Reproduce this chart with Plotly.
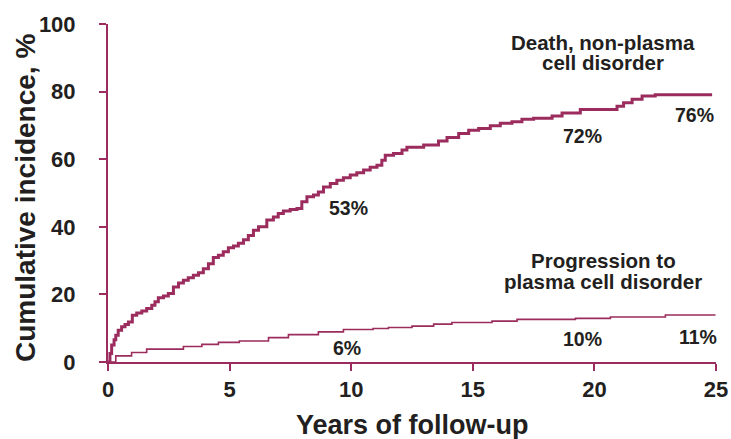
import plotly.graph_objects as go

# Death, non-plasma cell disorder (step curve)
death_years = [0, 0.08, 0.15, 0.25, 0.32, 0.42, 0.56, 0.70, 0.84, 1.0, 1.18, 1.39, 1.59, 1.80, 1.93,
               2.07, 2.28, 2.48, 2.69, 2.90, 3.10, 3.30, 3.51, 3.72, 3.92, 4.13, 4.33, 4.54, 4.74, 4.95,
               5.16, 5.36, 5.57, 5.77, 5.98, 6.19, 6.53, 6.80, 7.0, 7.21, 7.49, 7.77, 7.97, 8.18, 8.45,
               8.65, 8.86, 9.14, 9.41, 9.68, 9.96, 10.23, 10.51, 10.78, 11.06, 11.26, 11.4, 11.74, 12.09,
               12.29, 12.98, 13.59, 13.94, 14.42, 14.83, 15.24, 15.72, 16.13, 16.61, 17.02, 17.5, 18.26,
               18.67, 19.42, 20.93, 21.2, 21.55, 21.96, 22.5, 24.84]
death_pct = [0, 2.5, 5, 6.6, 7.9, 9.4, 10.4, 11.1, 11.8, 13.8, 14.5, 15.1, 15.8, 16.8, 17.8,
             19, 19.5, 20.3, 22.2, 23.4, 24.2, 24.9, 25.7, 26.4, 27.6, 29.1, 30.9, 31.6, 32.6, 33.8,
             34.3, 35.1, 36.2, 37.4, 39, 40, 42, 42.9, 43.9, 44.7, 45.1, 45.4, 47.4, 48.9, 49.4,
             50.3, 51.8, 52.8, 53.8, 54.5, 55.3, 56, 56.8, 57.6, 58.2, 59.7, 61.2, 61.7, 62.7,
             63.5, 64.2, 65.4, 66.4, 67.6, 68.6, 69.1, 69.9, 70.6, 71.1, 71.8, 72.1, 72.8,
             73.7, 74.7, 75.7, 76.7, 77.7, 78.7, 79.1, 79.1]

# Progression to plasma cell disorder (step curve)
prog_years = [0, 0.32, 0.97, 1.59, 3.1, 3.86, 4.54, 5.4, 6.6, 7.42, 8.65, 9.68, 10.9, 11.53,
              12.5, 13.39, 14.14, 15.79, 16.82, 19.22, 20.66, 22.92, 24.98]
prog_pct = [0, 1.8, 2.8, 3.8, 4.6, 5.2, 5.8, 6.2, 7.2, 8.1, 8.9, 9.6, 9.9, 10.2,
            10.6, 11.2, 11.7, 12.1, 12.6, 12.9, 13.3, 13.9, 13.9]

# Percentage labels
death_label_x = [9.88, 19.5, 24.1]
death_label_y = [45.5, 66.8, 73.0]
death_label_txt = ["53%", "72%", "76%"]
prog_label_x = [9.82, 19.5, 24.27]
prog_label_y = [4.1, 6.9, 7.4]
prog_label_txt = ["6%", "10%", "11%"]

series_titles = [("Death, non-plasma", 20.37, 94.6), ("cell disorder", 20.37, 88.6),
                 ("Progression to", 20.37, 30.1), ("plasma cell disorder", 20.37, 23.9)]

x_ticks = [0, 5, 10, 15, 20, 25]
y_ticks = [0, 20, 40, 60, 80, 100]
x_title = "Years of follow-up"
y_title = "Cumulative incidence, %"

COL = "#9b2c5d"
TXT = "#231f20"
FONT = "Liberation Sans"

fig = go.Figure()
fig.add_trace(go.Scatter(x=prog_years, y=prog_pct, mode="lines", line=dict(color=COL, width=1.6, shape="hv"),
                         showlegend=False, hoverinfo="skip"))
fig.add_trace(go.Scatter(x=death_years, y=death_pct, mode="lines", line=dict(color=COL, width=3, shape="hv"),
                         showlegend=False, hoverinfo="skip"))

for xs, ys, ts in [(death_label_x, death_label_y, death_label_txt), (prog_label_x, prog_label_y, prog_label_txt)]:
    for x, y, t in zip(xs, ys, ts):
        fig.add_annotation(x=x, y=y, text="<b>%s</b>" % t, showarrow=False,
                           font=dict(family=FONT, size=19.5, color=TXT))
for t, x, y in series_titles:
    fig.add_annotation(x=x, y=y, text="<b>%s</b>" % t, showarrow=False,
                       font=dict(family=FONT, size=20.5, color=TXT))

# Axis titles
fig.add_annotation(xref="paper", yref="paper", x=0.5, y=0, yshift=-63, yanchor="middle",
                   text="<b>%s</b>" % x_title, showarrow=False,
                   font=dict(family=FONT, size=27, color=TXT))
fig.add_annotation(xref="paper", yref="paper", x=0, y=0.5, xshift=-83, yshift=-5, xanchor="center",
                   yanchor="middle", textangle=-90,
                   text="<b>%s</b>" % y_title, showarrow=False,
                   font=dict(family=FONT, size=28, color=TXT))

fig.update_layout(
    width=731, height=439,
    margin=dict(l=108, r=15, t=24, b=77),
    paper_bgcolor="white", plot_bgcolor="white",
    font=dict(family=FONT, color=TXT),
)
fig.update_xaxes(range=[0, 25], tickvals=x_ticks, showgrid=False, zeroline=False, automargin=False,
                 showline=True, linecolor=COL, linewidth=2,
                 ticks="outside", ticklen=7, tickwidth=2, tickcolor=COL, ticklabelstandoff=0,
                 tickfont=dict(family=FONT, size=22, color=TXT, weight="bold"))
fig.update_yaxes(range=[0, 100], tickvals=y_ticks, showgrid=False, zeroline=False, automargin=False,
                 showline=True, linecolor=COL, linewidth=2,
                 ticks="outside", ticklen=7, tickwidth=2, tickcolor=COL, ticklabelstandoff=19,
                 tickfont=dict(family=FONT, size=22, color=TXT, weight="bold"))

fig.write_html("out.html")
